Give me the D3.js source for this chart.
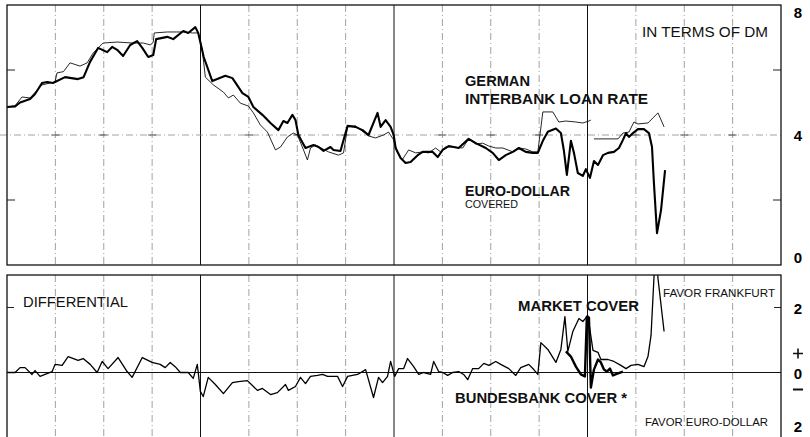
<!DOCTYPE html>
<html lang="en">
<head>
  <meta charset="UTF-8">
  <title>German interbank rate vs covered Euro-dollar</title>
  <script src="https://d3js.org/d3.v7.min.js"></script>
  <style>
    body { margin: 0; background: #fff; }
    svg { display: block; font-family: "Liberation Sans", Arial, sans-serif; }
    .grid-q { stroke: #8a8a8a; stroke-width: 0.8; stroke-dasharray: 7,3,1,3; }
    .grid-y { stroke: #111; stroke-width: 1; }
    .frame { fill: none; stroke: #111; stroke-width: 1.3; }
  </style>
</head>
<body>
  <div id="chart"></div>

  <script>
    // months since Jan 1968 (4 years, 16 quarters), value in percent
    const interbankRate = [
      [0.0,4.86],[0.5,4.9],[0.93,5.17],[1.43,5.14],[2.17,5.54],[2.67,5.6],[2.98,5.63],[3.1,5.91],[3.5,5.95],
      [3.91,6.22],[4.53,6.12],[4.97,6.22],[5.34,6.52],[5.96,6.83],[6.83,6.86],[7.8,6.83],[8.45,6.83],[8.9,6.77],
      [9.07,6.86],[9.13,7.14],[9.94,7.17],[10.93,7.17],[11.5,7.14],[11.86,7.14],[12.11,6.62],[12.3,5.78],
      [12.8,5.54],[13.42,5.32],[13.73,5.14],[14.04,5.23],[14.47,4.98],[14.97,4.89],[15.28,4.68],[15.71,4.31],
      [16.15,4.09],[16.65,3.54],[16.96,3.63],[17.39,3.94],[17.76,4.06],[18.01,4.0],[18.39,3.54],[18.63,3.23],
      [18.82,3.6],[19.13,3.69],[19.94,3.48],[20.56,3.38],[20.87,3.45],[21.12,4.25],[21.61,4.28],[22.42,3.97],
      [22.86,3.91],[23.35,4.0],[23.66,4.09],[23.98,3.85],[24.22,3.45],[24.5,3.23],[24.91,3.54],[25.34,3.45],
      [25.78,3.48],[26.15,3.45],[26.58,3.6],[26.89,3.48],[27.2,3.63],[27.64,3.63],[28.26,3.6],[28.63,3.88],
      [29.07,3.72],[29.5,3.75],[29.88,3.66],[30.31,3.6],[30.75,3.6],[31.37,3.48],[31.74,3.6],[32.17,3.57],
      [32.61,3.48],[32.92,3.48],[33.23,4.71],[33.85,4.71],[34.22,4.4],[34.66,4.43],[35.28,4.4],[35.71,4.37],
      [36.09,4.43],[36.21,4.46],[36.3,null],[36.4,3.88],[37.27,3.88],[37.89,3.88],[38.2,4.06],[38.57,4.09],
      [38.88,4.4],[39.13,4.34],[39.75,4.37],[40.37,4.68],[40.75,4.25]
    ];

    const euroDollarCovered = [
      [0.0,4.86],[0.5,4.88],[0.81,5.0],[1.43,5.11],[1.74,5.26],[2.17,5.6],[2.5,5.63],[2.85,5.6],[3.6,5.78],
      [4.4,5.72],[4.75,5.78],[5.15,6.25],[5.65,6.68],[6.21,6.55],[6.52,6.71],[6.83,6.62],[7.2,6.43],[7.64,6.77],
      [8.07,6.89],[8.39,6.68],[8.76,6.4],[9.07,6.46],[9.25,6.95],[9.94,7.02],[10.31,6.95],[10.93,7.2],
      [11.24,7.14],[11.68,7.32],[11.86,7.14],[12.2,6.4],[12.73,5.66],[13.54,5.82],[13.98,5.75],[14.6,5.29],
      [14.97,5.17],[15.28,4.86],[15.84,4.62],[16.34,4.37],[16.83,4.15],[17.14,4.43],[17.39,4.37],[17.7,4.62],
      [17.89,4.46],[18.07,4.0],[18.51,3.6],[19.01,3.69],[19.32,3.63],[19.63,3.51],[20.06,3.63],[20.25,3.54],
      [20.68,3.51],[21.12,4.28],[21.61,4.25],[22.05,4.15],[22.42,4.0],[22.98,4.68],[23.17,4.25],[23.48,4.46],
      [23.79,4.25],[23.98,4.0],[24.1,3.6],[24.41,3.29],[24.72,3.14],[25.03,3.17],[25.47,3.38],[25.78,3.48],
      [26.4,3.48],[26.71,3.32],[27.02,3.54],[27.39,3.66],[28.01,3.6],[28.63,3.88],[29.07,3.75],[29.69,3.6],
      [30.12,3.45],[30.5,3.23],[30.93,3.38],[31.37,3.48],[31.74,3.6],[32.17,3.48],[32.61,3.45],[32.92,3.45],
      [33.23,3.82],[33.54,4.1],[34.04,4.2],[34.35,4.06],[34.53,3.54],[34.72,2.77],[34.97,3.82],[35.16,3.45],
      [35.4,2.83],[35.71,2.74],[35.9,2.95],[36.15,2.68],[36.4,3.2],[36.65,3.08],[36.96,3.38],[37.27,3.45],
      [37.64,3.48],[37.95,3.6],[38.2,3.85],[38.39,4.06],[38.57,3.94],[38.82,4.06],[39.13,4.18],[39.5,4.18],
      [39.81,4.06],[40.0,3.63],[40.12,2.52],[40.31,0.98],[40.56,1.69],[40.81,2.92]
    ];

    // differential, market cover (percentage points)
    const marketCover = [
      [0,0],[0.5,0],[0.81,0.15],[1.12,0.15],[1.55,-0.06],[1.74,0.06],[2.05,-0.12],[2.36,-0.06],[2.8,0.03],
      [2.98,0.25],[3.42,0.22],[3.79,0.49],[4.41,0.37],[4.72,0.43],[5.16,0.25],[5.59,0],[5.9,0.34],[6.27,0.12],
      [6.89,0.46],[7.45,0.03],[7.76,-0.15],[8.39,0.46],[9.0,0.31],[9.5,0.25],[9.81,0.15],[10.12,0.31],
      [10.43,0.18],[10.75,0],[11.24,0],[11.55,-0.18],[11.8,0.25],[11.86,0],[11.99,-0.58],[12.17,-0.74],
      [12.48,-0.15],[12.92,-0.37],[13.42,-0.65],[13.98,-0.31],[14.35,-0.28],[14.91,-0.25],[15.53,-0.55],
      [15.84,-0.49],[16.34,-0.68],[16.77,-0.62],[17.27,-0.37],[17.45,-0.55],[17.89,-0.43],[18.2,-0.15],
      [18.51,-0.34],[18.82,-0.12],[19.25,-0.09],[19.57,-0.06],[19.88,-0.12],[20.5,-0.12],[20.81,-0.43],
      [21.12,-0.12],[21.74,-0.06],[22.24,0.09],[22.73,-0.77],[23.04,-0.15],[23.29,-0.31],[23.6,-0.12],
      [23.79,0.34],[24.04,-0.12],[24.29,0.12],[24.6,0.12],[24.84,0.43],[25.22,0.18],[25.53,-0.06],[25.84,0],
      [26.27,-0.06],[26.46,0.34],[26.77,0.03],[27.02,0],[27.33,-0.09],[27.64,0],[28.01,0.03],[28.32,-0.06],
      [28.57,-0.22],[28.88,0.12],[29.25,0.12],[29.57,0.28],[29.88,0.22],[30.31,0.34],[30.62,0.25],[31.12,0.12],
      [31.55,-0.09],[31.86,0.15],[32.36,0.25],[32.67,0.09],[32.92,-0.06],[33.11,0.92],[33.54,0.71],[34.04,0.31],
      [34.35,0.71],[34.6,1.72],[34.78,0.65],[35.09,1.26],[35.47,1.66],[35.71,1.57],[36.02,1.75],[36.34,0.68],
      [36.65,0.62],[36.83,0.4],[37.27,0.4],[37.64,0.34],[38.07,0.22],[38.39,0.12],[38.7,0.22],[39.13,0.25],
      [39.5,0.18],[39.75,0.49],[39.94,1.14],[40.12,2.9],[40.25,4.0],[40.37,2.9],[40.75,1.26]
    ];

    const bundesbankCover = [
      [34.66,0.65],[34.97,0.49],[35.28,0.18],[35.59,-0.06],[35.84,-0.12],[35.96,1.72],[36.09,1.69],
      [36.21,-0.46],[36.4,0.09],[36.65,0.4],[36.83,0.31],[37.02,0.09],[37.2,0.03],[37.39,0.12],
      [37.58,-0.09],[37.89,-0.03],[38.2,0.03]
    ];

    const topTicks = [0, 4, 8];
    const bottomTicks = [2, 0, -2];

    const width = 810, height = 437;
    const svg = d3.select("#chart").append("svg")
      .attr("width", width).attr("height", height);

    const x = d3.scaleLinear().domain([0, 48]).range([7, 781]);
    const yTop = d3.scaleLinear().domain([0, 8]).range([265, 5]);
    const yBot = d3.scaleLinear().domain([-3, 3]).range([470, 275]);

    const quarters = d3.range(1, 16).map(i => i * 3);

    // clip areas
    const defs = svg.append("defs");
    defs.append("clipPath").attr("id", "clipTop").append("rect")
      .attr("x", x(0)).attr("y", yTop(8)).attr("width", x(48) - x(0)).attr("height", yTop(0) - yTop(8));
    defs.append("clipPath").attr("id", "clipBot").append("rect")
      .attr("x", x(0)).attr("y", yBot(3)).attr("width", x(48) - x(0)).attr("height", yBot(-3) - yBot(3));

    function drawGrid(g, y0, y1) {
      g.selectAll("line.q").data(quarters).enter().append("line")
        .attr("class", d => d % 12 === 0 ? "grid-y" : "grid-q")
        .attr("x1", d => x(d)).attr("x2", d => x(d))
        .attr("y1", y0).attr("y2", y1);
    }

    // ---- top panel
    const topPanel = svg.append("g");
    drawGrid(topPanel, yTop(8), yTop(0));

    topPanel.append("line").attr("class", "grid-q")
      .attr("x1", x(0) - 7).attr("x2", x(48))
      .attr("y1", yTop(4)).attr("y2", yTop(4));
    // little crosses on the 4% line
    topPanel.selectAll("path.cross").data(quarters.filter(d => d % 12 !== 0)).enter().append("path")
      .attr("d", d => `M${x(d) - 4},${yTop(4)}h8`)
      .attr("stroke", "#555").attr("stroke-width", 1);

    [2, 6].forEach(v => {
      topPanel.append("line").attr("stroke", "#222").attr("stroke-width", 1)
        .attr("x1", x(0)).attr("x2", x(0) + 8).attr("y1", yTop(v)).attr("y2", yTop(v));
      topPanel.append("line").attr("stroke", "#222").attr("stroke-width", 1)
        .attr("x1", x(48) - 8).attr("x2", x(48)).attr("y1", yTop(v)).attr("y2", yTop(v));
    });

    const lineTop = d3.line()
      .defined(d => d[1] != null)
      .x(d => x(d[0])).y(d => yTop(d[1]));

    const topLines = topPanel.append("g").attr("clip-path", "url(#clipTop)");
    topLines.append("path").datum(interbankRate)
      .attr("fill", "none").attr("stroke", "#111").attr("stroke-width", 0.9)
      .attr("stroke-linejoin", "round").attr("d", lineTop);
    topLines.append("path").datum(euroDollarCovered)
      .attr("fill", "none").attr("stroke", "#000").attr("stroke-width", 2.1)
      .attr("stroke-linejoin", "round").attr("d", lineTop);

    topPanel.append("rect").attr("class", "frame")
      .attr("x", x(0)).attr("y", yTop(8))
      .attr("width", x(48) - x(0)).attr("height", yTop(0) - yTop(8));

    // ---- bottom panel
    const botPanel = svg.append("g");
    drawGrid(botPanel, yBot(3), yBot(-3));

    botPanel.append("line").attr("stroke", "#111").attr("stroke-width", 1.2)
      .attr("x1", x(0)).attr("x2", x(48)).attr("y1", yBot(0)).attr("y2", yBot(0));
    botPanel.append("line").attr("stroke", "#222").attr("stroke-width", 1)
      .attr("x1", x(0)).attr("x2", x(0) + 7).attr("y1", yBot(2)).attr("y2", yBot(2));
    botPanel.append("line").attr("stroke", "#222").attr("stroke-width", 1)
      .attr("x1", x(48) - 7).attr("x2", x(48)).attr("y1", yBot(2)).attr("y2", yBot(2));

    const lineBot = d3.line().x(d => x(d[0])).y(d => yBot(d[1]));
    const botLines = botPanel.append("g").attr("clip-path", "url(#clipBot)");
    botLines.append("path").datum(marketCover)
      .attr("fill", "none").attr("stroke", "#000").attr("stroke-width", 1.3)
      .attr("stroke-linejoin", "round").attr("d", lineBot);
    botLines.append("path").datum(bundesbankCover)
      .attr("fill", "none").attr("stroke", "#000").attr("stroke-width", 2.4)
      .attr("stroke-linejoin", "round").attr("d", lineBot);

    botPanel.append("rect").attr("class", "frame")
      .attr("x", x(0)).attr("y", yBot(3))
      .attr("width", x(48) - x(0)).attr("height", yBot(-3) - yBot(3));

    // ---- right-hand scale labels
    const labelX = 798;
    svg.selectAll("text.ytop").data(topTicks).enter().append("text")
      .attr("x", labelX)
      .attr("y", d => yTop(d) + (d === 8 ? 13 : d === 0 ? -2 : 6))
      .attr("text-anchor", "middle").attr("font-weight", "bold").attr("font-size", 15)
      .text(d => d);
    svg.selectAll("text.ybot").data(bottomTicks).enter().append("text")
      .attr("x", labelX)
      .attr("y", d => yBot(d) + (d < 0 ? -6 : 6))
      .attr("text-anchor", "middle").attr("font-weight", "bold").attr("font-size", 15)
      .text(d => Math.abs(d));
    // plus and minus signs around the zero
    svg.append("path").attr("stroke", "#111").attr("stroke-width", 1.6)
      .attr("d", `M${labelX - 5},${yBot(0) - 19}h10M${labelX},${yBot(0) - 24}v10`);
    svg.append("line").attr("stroke", "#111").attr("stroke-width", 2)
      .attr("x1", labelX - 5).attr("x2", labelX + 5)
      .attr("y1", yBot(0) + 17).attr("y2", yBot(0) + 17);

    // ---- annotations
    function label(t, xx, yy, size, bold, len) {
      const el = svg.append("text").attr("x", xx).attr("y", yy)
        .attr("font-size", size).attr("font-weight", bold ? "bold" : "normal")
        .attr("fill", "#111").text(t);
      if (len) el.attr("textLength", len).attr("lengthAdjust", "spacingAndGlyphs");
    }
    label("IN TERMS OF DM", 642, 37, 14, false, 126);
    label("GERMAN", 465, 86, 15, true, 65);
    label("INTERBANK LOAN RATE", 465, 104, 15, true, 183);
    label("EURO-DOLLAR", 465, 196, 15, true, 105);
    label("COVERED", 465, 208, 11, false, 53);
    label("DIFFERENTIAL", 23, 307, 14, false, 105);
    label("MARKET COVER", 518, 311, 15, true, 121);
    label("BUNDESBANK COVER *", 455, 403, 15, true, 172);
    label("FAVOR FRANKFURT", 663, 297, 11.5, false, 112);
    label("FAVOR EURO-DOLLAR", 645, 426, 11.5, false, 123);
  </script>
</body>
</html>
